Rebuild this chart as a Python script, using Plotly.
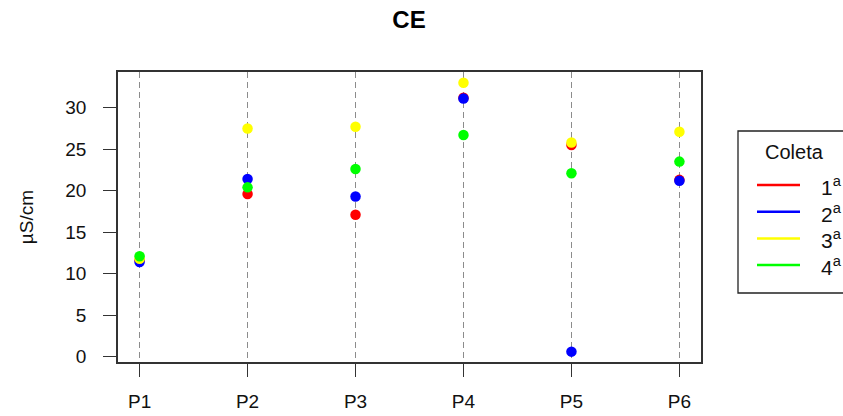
import plotly.graph_objects as go

# Electrical conductivity per sampling point, one series per collection campaign
pontos = ["P1", "P2", "P3", "P4", "P5", "P6"]
coleta_1 = [11.6, 19.6, 17.1, 31.2, 25.5, 21.3]
coleta_2 = [11.4, 21.4, 19.3, 31.1, 0.6, 21.2]
coleta_3 = [11.8, 27.5, 27.7, 33.0, 25.8, 27.1]
coleta_4 = [12.1, 20.4, 22.6, 26.7, 22.1, 23.5]
rotulos = ["1<sup>a</sup>", "2<sup>a</sup>", "3<sup>a</sup>", "4<sup>a</sup>"]
cores = ["#FF0000", "#0000FF", "#FFFF00", "#00FF00"]
valores_y = [0, 5, 10, 15, 20, 25, 30]

W, H = 843, 416
ML, MR, MT, MB = 118, 142, 72, 54
PW, PH = W - ML - MR, H - MT - MB
FONT = "Liberation Sans, Arial, sans-serif"


def px_x(x):
    """pixel column -> paper x"""
    return (x - ML) / PW


def px_y(y):
    """pixel row -> paper y"""
    return (H - MB - y) / PH


x_pos = list(range(1, len(pontos) + 1))

fig = go.Figure()
for nome, valores, cor in zip(rotulos, [coleta_1, coleta_2, coleta_3, coleta_4], cores):
    fig.add_trace(go.Scatter(
        x=x_pos, y=valores, mode="markers", name=nome,
        marker=dict(color=cor, size=10.5, line=dict(width=0)),
        showlegend=False,
    ))

# Legend box drawn by hand (R style: title on top, line samples, labels)
shapes = [dict(type="rect", xref="paper", yref="paper",
               x0=px_x(738), x1=px_x(860), y0=px_y(293), y1=px_y(131),
               line=dict(color="#222", width=1.3), fillcolor="white", layer="above")]
annotations = [dict(text="Coleta", xref="paper", yref="paper",
                    x=px_x(794), y=px_y(152), xanchor="center", yanchor="middle",
                    showarrow=False, font=dict(size=20, family=FONT, color="#111"))]
linhas_y = [185, 211.7, 238.4, 265]
for nome, cor, yy in zip(rotulos, cores, linhas_y):
    shapes.append(dict(type="line", xref="paper", yref="paper",
                       x0=px_x(757), x1=px_x(800), y0=px_y(yy), y1=px_y(yy),
                       line=dict(color=cor, width=2.5), layer="above"))
    annotations.append(dict(text=nome, xref="paper", yref="paper",
                            x=px_x(819), y=px_y(yy + 1), xanchor="left", yanchor="middle",
                            showarrow=False, font=dict(size=21, family=FONT, color="#111")))

fig.update_layout(
    width=W, height=H,
    margin=dict(l=ML, r=MR, t=MT, b=MB, autoexpand=False),
    paper_bgcolor="white", plot_bgcolor="white",
    font=dict(family=FONT, size=20, color="#111"),
    title=dict(text="<b>CE</b>", x=409 / W, xanchor="center",
               y=1 - 20 / H, yanchor="middle", automargin=False,
               font=dict(size=24, family=FONT, color="black")),
    showlegend=False,
    shapes=shapes,
    annotations=annotations,
)

fig.update_xaxes(
    range=[0.8, 6.2], tickmode="array", tickvals=x_pos, ticktext=pontos,
    showgrid=True, gridcolor="#8c8c8c", griddash="6px,4px", gridwidth=1.3,
    showline=True, linecolor="#333", linewidth=1.5, mirror=True,
    ticks="outside", ticklen=13, tickwidth=1.3, tickcolor="#333",
    ticklabelstandoff=8, zeroline=False, automargin=False,
    tickfont=dict(size=19, family=FONT, color="#111"),
)
fig.update_yaxes(
    range=[-0.65, 34.3], tickmode="array", tickvals=valores_y,
    showgrid=False, zeroline=False, automargin=False,
    showline=True, linecolor="#333", linewidth=1.5, mirror=True,
    ticks="outside", ticklen=13, tickwidth=1.3, tickcolor="#333",
    ticklabelstandoff=13,
    tickfont=dict(size=19, family=FONT, color="#111"),
    title=dict(text="µS/cm", standoff=27,
               font=dict(size=19, family=FONT, color="#111")),
)

fig.write_html("out.html")
